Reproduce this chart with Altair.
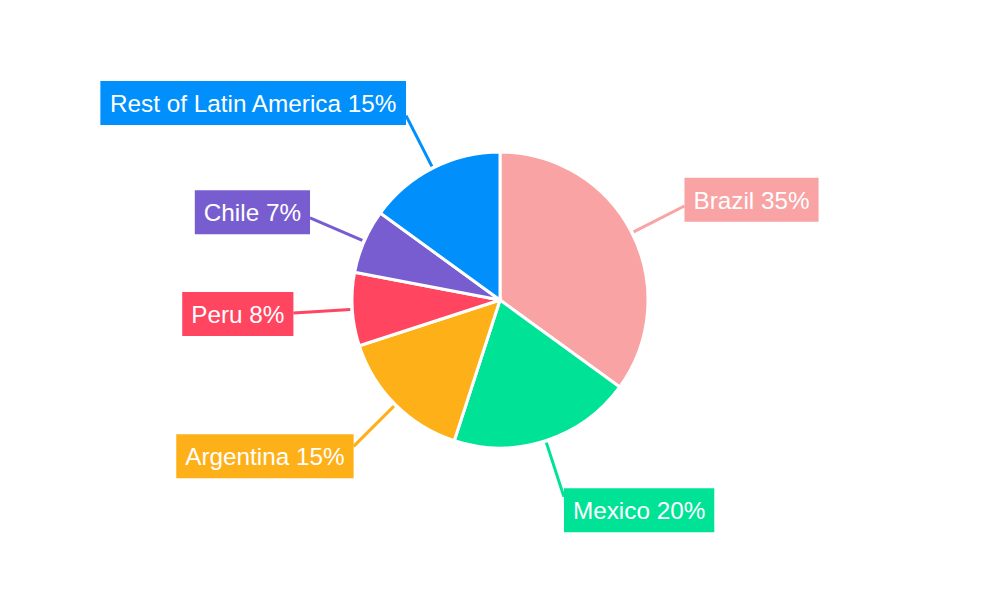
import altair as alt
import pandas as pd

# ---- data ----
countries = ["Brazil", "Mexico", "Argentina", "Peru", "Chile", "Rest of Latin America"]
shares = [35, 20, 15, 8, 7, 15]
colors = ["#F9A3A4", "#00E396", "#FEB019", "#FF4560", "#775DD0", "#008FFB"]

# Arial / Liberation Sans advance widths (per 1000 em) for measuring label text
ARIAL = {
    " ": 278, "%": 889, "0": 556, "1": 556, "2": 556, "3": 556, "4": 556,
    "5": 556, "6": 556, "7": 556, "8": 556, "9": 556,
    "A": 667, "B": 667, "C": 722, "L": 556, "M": 833, "P": 667, "R": 722,
    "a": 556, "c": 500, "e": 556, "f": 278, "g": 556, "h": 556, "i": 222,
    "l": 222, "m": 833, "n": 556, "o": 556, "r": 333, "s": 500, "t": 278,
    "u": 556, "x": 500, "z": 500,
}
FONT_SIZE = 24.3


def text_width(s):
    return sum(ARIAL.get(ch, 556) for ch in s) * FONT_SIZE / 1000.0


labels = [f"{c} {s}%" for c, s in zip(countries, shares)]
df = pd.DataFrame({
    "idx": list(range(len(countries))),
    "country": countries,
    "share": shares,
    "label": labels,
    "tw": [text_width(l) for l in labels],
})

W, H = 984, 584
R = 148      # pie radius
R0 = 150     # connector start radius
R1 = 207     # connector end radius
K = 14       # vertical shift of label box
PAD = 9
BH = 44

color = alt.Color("country:N", scale=alt.Scale(domain=countries, range=colors), legend=None)
xs = alt.Scale(domain=[-W / 2, W / 2], nice=False, zero=False)
ys = alt.Scale(domain=[-H / 2, H / 2], nice=False, zero=False)

base = alt.Chart(df)

pie = base.mark_arc(outerRadius=R, stroke="white", strokeWidth=3).encode(
    theta=alt.Theta("share:Q", stack=True),
    color=color,
    order=alt.Order("idx:Q"),
)

geo = base.transform_joinaggregate(
    total="sum(share)"
).transform_window(
    cum="sum(share)", sort=[alt.SortField("idx")], frame=[None, 0]
).transform_calculate(
    mid="(datum.cum - datum.share / 2) / datum.total * 2 * PI",
).transform_calculate(
    sx="sin(datum.mid)", cy="cos(datum.mid)",
).transform_calculate(
    side="datum.sx >= 0 ? 1 : -1",
    x0=f"{R0} * datum.sx", y0=f"{R0} * datum.cy",
    x1=f"{R1} * datum.sx", y1=f"{R1} * datum.cy",
).transform_calculate(
    bx2=f"datum.x1 + datum.side * (datum.tw + {2 * PAD})",
    yc=f"datum.y1 + {K} * datum.cy",
).transform_calculate(
    by1=f"datum.yc - {BH / 2}", by2=f"datum.yc + {BH / 2}",
    tx="(datum.x1 + datum.bx2) / 2",
)

rule = geo.mark_rule(strokeWidth=3).encode(
    x=alt.X("x0:Q", scale=xs, axis=None),
    y=alt.Y("y0:Q", scale=ys, axis=None),
    x2="x1:Q", y2="y1:Q",
    color=color,
)

box = geo.mark_rect().encode(
    x=alt.X("x1:Q", scale=xs, axis=None),
    x2="bx2:Q",
    y=alt.Y("by1:Q", scale=ys, axis=None),
    y2="by2:Q",
    color=color,
)

txt = geo.mark_text(
    font="Liberation Sans", fontSize=FONT_SIZE, color="white",
    align="center", baseline="middle", dy=2,
).encode(
    x=alt.X("tx:Q", scale=xs, axis=None),
    y=alt.Y("yc:Q", scale=ys, axis=None),
    text="label:N",
)

chart = alt.layer(pie, rule, box, txt).properties(
    width=W, height=H, padding=0, autosize="none"
).configure_view(stroke=None)

chart.save("out.html", embed_options={"renderer": "svg", "actions": False})
